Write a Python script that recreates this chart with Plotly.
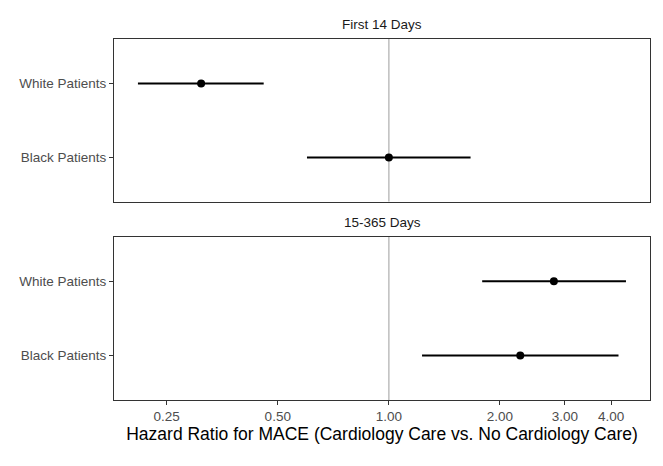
import plotly.graph_objects as go
import math

groups = ["Black Patients", "White Patients"]
panels = ["First 14 Days", "15-365 Days"]

# hazard ratios and 95% CI, per panel, in order of groups
hr_first14 = [1.00, 0.31]
lo_first14 = [0.60, 0.209]
hi_first14 = [1.665, 0.458]

hr_15_365 = [2.27, 2.80]
lo_15_365 = [1.23, 1.79]
hi_15_365 = [4.19, 4.39]

x_ticks = [0.25, 0.5, 1, 2, 3, 4]
x_ticklabels = ["0.25", "0.50", "1.00", "2.00", "3.00", "4.00"]
x_title = "Hazard Ratio for MACE (Cardiology Care vs. No Cardiology Care)"

ypos = [1, 2]
yrange = [0.4, 2.6]
xrange_log = [math.log10(0.180), math.log10(5.10)]

fig = go.Figure()

data = [(hr_first14, lo_first14, hi_first14, "x", "y"),
        (hr_15_365, lo_15_365, hi_15_365, "x2", "y2")]

for hr, lo, hi, xa, ya in data:
    # reference line at HR = 1
    fig.add_trace(go.Scatter(x=[1, 1], y=yrange, mode="lines",
                             line=dict(color="#bdbdbd", width=1.5),
                             xaxis=xa, yaxis=ya, showlegend=False, hoverinfo="skip"))
    fig.add_trace(go.Scatter(
        x=hr, y=ypos, mode="markers",
        marker=dict(color="black", size=8),
        error_x=dict(type="data", symmetric=False,
                     array=[h - v for h, v in zip(hi, hr)],
                     arrayminus=[v - l for v, l in zip(hr, lo)],
                     color="black", thickness=2, width=0),
        xaxis=xa, yaxis=ya, showlegend=False))

axis_common = dict(showline=True, mirror=True, linecolor="#333333", linewidth=1,
                   showgrid=False, zeroline=False)

fig.update_layout(
    width=663, height=466,
    margin=dict(l=106, r=21, t=31, b=74),
    paper_bgcolor="white", plot_bgcolor="white",
    font=dict(family="Liberation Sans, Arial, sans-serif", color="#4d4d4d"),
    xaxis=dict(type="log", range=xrange_log, anchor="y", domain=[0, 1],
               showticklabels=False, ticks="", matches="x2", **axis_common),
    yaxis=dict(range=yrange, domain=[0.549, 1], anchor="x",
               tickvals=ypos, ticktext=groups, ticks="outside", ticklen=4,
               tickcolor="#333333", tickfont=dict(size=13.5, color="#4d4d4d"),
               **axis_common),
    xaxis2=dict(type="log", range=xrange_log, anchor="y2", domain=[0, 1],
                tickvals=x_ticks, ticktext=x_ticklabels, ticks="outside", ticklen=4,
                tickcolor="#333333", tickfont=dict(size=13.5, color="#4d4d4d"),
                title=dict(text=x_title, font=dict(size=17.5, color="black"), standoff=2),
                **axis_common),
    yaxis2=dict(range=yrange, domain=[0, 0.452], anchor="x2",
                tickvals=ypos, ticktext=groups, ticks="outside", ticklen=4,
                tickcolor="#333333", tickfont=dict(size=13.5, color="#4d4d4d"),
                **axis_common),
    annotations=[
        dict(text=panels[0], xref="paper", yref="paper", x=0.5, y=1.0, yshift=5,
             xanchor="center", yanchor="bottom", showarrow=False,
             font=dict(size=13.5, color="#1a1a1a")),
        dict(text=panels[1], xref="paper", yref="paper", x=0.5, y=0.452, yshift=5,
             xanchor="center", yanchor="bottom", showarrow=False,
             font=dict(size=13.5, color="#1a1a1a")),
    ],
)

fig.write_html("out.html")
